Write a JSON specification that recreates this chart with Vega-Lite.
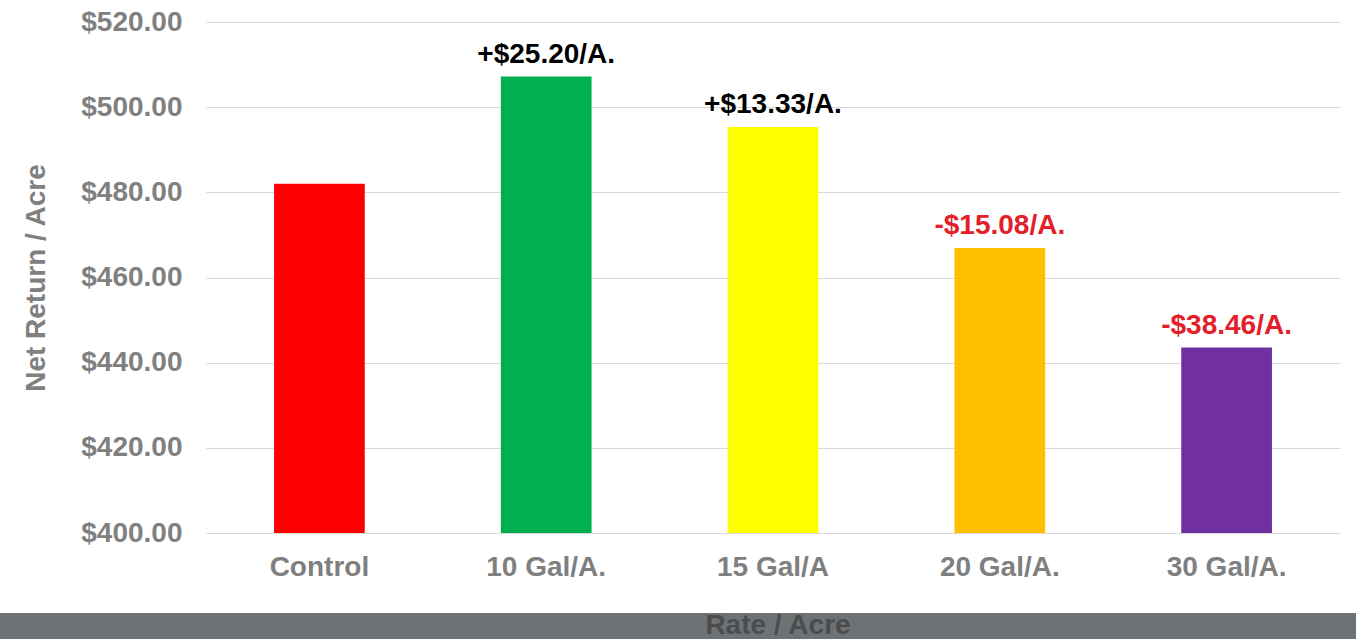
{
  "$schema": "https://vega.github.io/schema/vega-lite/v6.json",
  "padding": {"left": 0, "right": 0, "top": 8, "bottom": 0},
  "background": "white",
  "config": {"font": "Liberation Sans"},
  "datasets": {
    "returns": [
      {"rate": "Control", "net": 482.0, "label": "", "direction": "none"},
      {"rate": "10 Gal/A.", "net": 507.2, "label": "+$25.20/A.", "direction": "gain"},
      {"rate": "15 Gal/A", "net": 495.33, "label": "+$13.33/A.", "direction": "gain"},
      {"rate": "20 Gal/A.", "net": 466.92, "label": "-$15.08/A.", "direction": "loss"},
      {"rate": "30 Gal/A.", "net": 443.54, "label": "-$38.46/A.", "direction": "loss"}
    ],
    "footer": [{"caption": "Rate / Acre"}]
  },
  "center": true,
  "spacing": 31,
  "vconcat": [
    {
      "width": 1134,
      "height": 511,
      "data": {"name": "returns"},
      "view": {"stroke": null},
      "encoding": {
        "x": {
          "field": "rate", "type": "nominal", "sort": null,
          "scale": {"paddingInner": 0.6, "paddingOuter": 0.3},
          "axis": {
            "title": null, "labelFontSize": 28, "labelFontWeight": "bold",
            "labelColor": "#7f7f7f", "ticks": false, "domain": false,
            "labelPadding": 20, "labelAngle": 0, "grid": false
          }
        },
        "y": {
          "field": "net", "type": "quantitative",
          "scale": {"domain": [400, 520], "nice": false, "zero": false},
          "axis": {
            "title": "Net Return / Acre", "titleFontSize": 28, "titleFontWeight": "bold",
            "titleColor": "#808080", "titlePadding": 30,
            "labelFontSize": 28, "labelFontWeight": "bold", "labelColor": "#808080",
            "labelPadding": 24, "ticks": false, "domain": false,
            "gridColor": "#d9d9d9", "values": [400, 420, 440, 460, 480, 500, 520],
            "format": "$.2f"
          }
        }
      },
      "layer": [
        {
          "mark": {"type": "bar", "clip": true},
          "encoding": {
            "color": {
              "field": "rate", "type": "nominal", "sort": null,
              "scale": {
                "domain": ["Control", "10 Gal/A.", "15 Gal/A", "20 Gal/A.", "30 Gal/A."],
                "range": ["#ff0000", "#00b050", "#ffff00", "#ffc000", "#7030a0"]
              },
              "legend": null
            }
          }
        },
        {
          "transform": [{"filter": "datum.label != ''"}],
          "mark": {"type": "text", "baseline": "alphabetic", "dy": -14, "fontSize": 28, "fontWeight": "bold"},
          "encoding": {
            "text": {"field": "label"},
            "color": {
              "field": "direction", "type": "nominal",
              "scale": {"domain": ["gain", "loss"], "range": ["#000000", "#e3202a"]},
              "legend": null
            }
          }
        }
      ],
      "resolve": {"scale": {"color": "independent"}}
    },
    {
      "width": 1546,
      "height": 26,
      "data": {"name": "footer"},
      "view": {"fill": "#6f7274", "stroke": null},
      "mark": {"type": "text", "fontSize": 28, "fontWeight": "bold", "color": "#4a4c4e", "dx": 5},
      "encoding": {"text": {"field": "caption"}}
    }
  ]
}
